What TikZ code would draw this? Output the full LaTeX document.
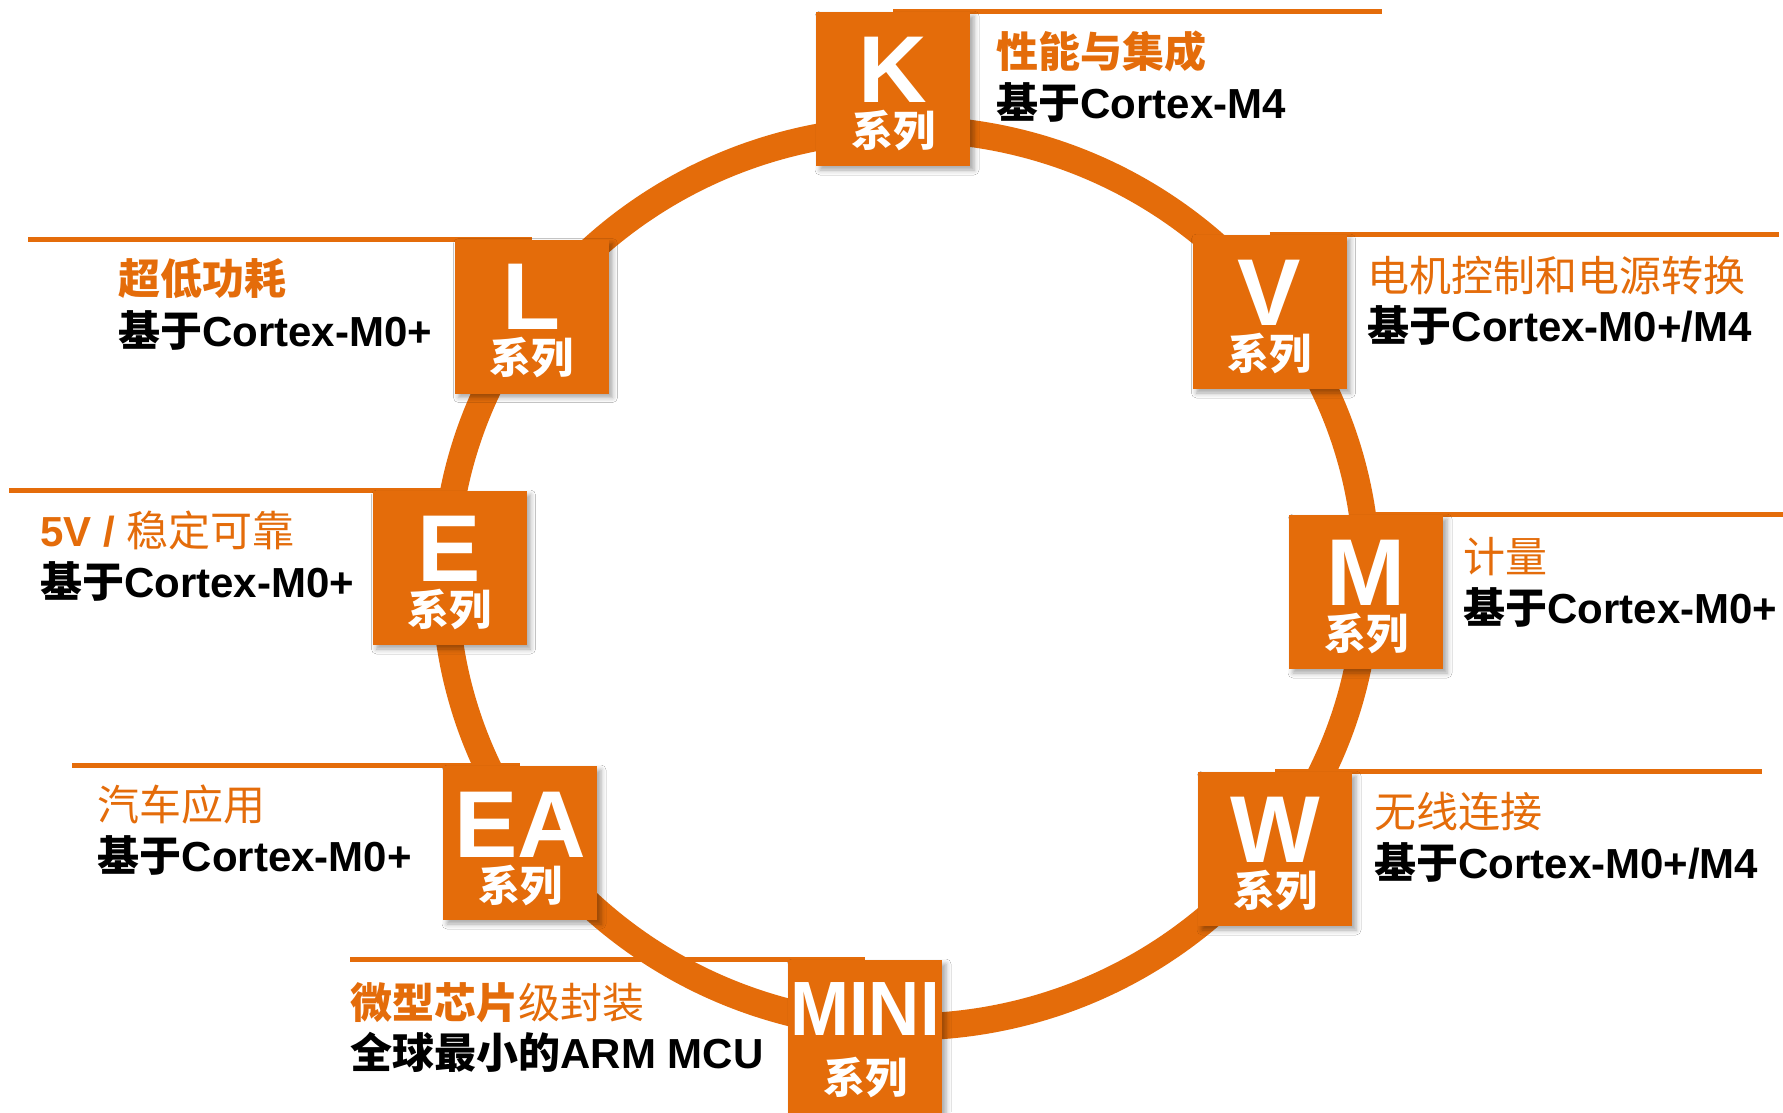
\documentclass[tikz,border=0pt]{standalone}
\usepackage{fontspec}
\usepackage{graphicx}
\setmainfont{Liberation Sans}
\newfontfamily\cjk{Noto Sans CJK SC}
\newcommand{\zh}[1]{{\cjk #1}}
\definecolor{frorange}{RGB}{228,108,10}
\usetikzlibrary{positioning,backgrounds,shadows.blur}

\begin{document}
\begin{tikzpicture}[x=1pt, y=-1pt,
  serbox/.style={fill=frorange, minimum size=154pt, inner sep=0pt,
    blur shadow={shadow xshift=4pt, shadow yshift=-4pt, shadow blur radius=5pt, shadow opacity=35}},
  serletter/.style={text=white, inner sep=0pt, text height=68pt, text depth=0pt,
    font=\fontsize{95}{95}\selectfont\bfseries},
  serxilie/.style={text=white, inner sep=0pt, text height=36pt, text depth=4pt,
    font=\fontsize{42}{42}\selectfont\cjk\bfseries},
  sertitle/.style={text=frorange, inner sep=0pt, text height=37pt, text depth=5pt,
    font=\fontsize{42}{42}\selectfont\cjk},
  sersub/.style={text=black, inner sep=0pt, text height=37pt, text depth=5pt,
    font=\fontsize{42}{42}\selectfont\bfseries},
  topline/.style={frorange, line width=5pt},
  ring/.style={frorange, line width=27pt}]

\useasboundingbox (0,0) rectangle (1783,1112);

% the boxes
\node[serbox] (K) at (893,89) {};
\node[serbox] (L) at (531.5,316.5) {};
\node[serbox] (V) at (1269.5,312) {};
\node[serbox] (E) at (449.5,568) {};
\node[serbox] (M) at (1366,592) {};
\node[serbox] (EA) at (520,843) {};
\node[serbox] (W) at (1275,849) {};
\node[serbox] (MINI) at (865,1037) {};

% ends of the lines
\coordinate (Kend) at (1382,12);
\coordinate (Vend) at (1779,235);
\coordinate (Mend) at (1783,515);
\coordinate (Wend) at (1762,772);
\coordinate (Lend) at (28,240);
\coordinate (Eend) at (9,491);
\coordinate (EAend) at (72,766);
\coordinate (MINIend) at (350,960);

\begin{pgfonlayer}{background}
\fill[white] (0,0) rectangle (1783,1112);
% the ring
\draw[ring] (906,578) ellipse [x radius=461, y radius=449];
% the lines behind the boxes
\draw[topline] (K.north) -- (K.north -| Kend);
\draw[topline] (V.north) -- (V.north -| Vend);
\draw[topline] (M.north) -- (M.north -| Mend);
\draw[topline] (W.north) -- (W.north -| Wend);
\draw[topline] (L.north) -- (L.north -| Lend);
\draw[topline] (E.north) -- (E.north -| Eend);
\draw[topline] (EA.north) -- (EA.north -| EAend);
\draw[topline] (MINI.north) -- (MINI.north -| MINIend);
\end{pgfonlayer}

% letters and labels in the boxes
\node[serletter] (Kl) at ([yshift=21pt]K.center) {K};
\node[serxilie] (Kx) at ([yshift=-41pt]K.center) {系列};
\node[serletter] (Ll) at ([yshift=21pt]L.center) {L};
\node[serxilie] (Lx) at ([yshift=-41pt]L.center) {系列};
\node[serletter] (Vl) at ([yshift=21pt]V.center) {V};
\node[serxilie] (Vx) at ([yshift=-41pt]V.center) {系列};
\node[serletter] (El) at ([yshift=21pt]E.center) {E};
\node[serxilie] (Ex) at ([yshift=-41pt]E.center) {系列};
\node[serletter] (Ml) at ([yshift=21pt]M.center) {M};
\node[serxilie] (Mx) at ([yshift=-41pt]M.center) {系列};
\node[serletter] (EAl) at ([yshift=20pt]EA.center) {EA};
\node[serxilie] (EAx) at ([yshift=-42pt]EA.center) {系列};
\node[serletter] (Wl) at ([yshift=21pt]W.center) {W};
\node[serxilie] (Wx) at ([yshift=-41pt]W.center) {系列};
\node[serletter, text height=55pt, font=\fontsize{77}{77}\selectfont\bfseries] (MINIl) at ([yshift=29pt]MINI.center) {\scalebox{0.92}[1]{MINI}};
\node[serxilie] (MINIx) at ([yshift=-40pt]MINI.center) {系列};

% texts on the right
\node[sertitle, anchor=west] (Kt) at ([xshift=26pt,yshift=-40pt]K.north east) {\bfseries 性能与集成};
\node[sersub, anchor=west] (Ks) at ([xshift=26pt,yshift=-91pt]K.north east) {\zh{基于}Cortex-M4};
\node[sertitle, anchor=west] (Vt) at ([xshift=21pt,yshift=-41pt]V.north east) {电机控制和电源转换};
\node[sersub, anchor=west] (Vs) at ([xshift=21pt,yshift=-91pt]V.north east) {\zh{基于}Cortex-M0+/M4};
\node[sertitle, anchor=west] (Mt) at ([xshift=20pt,yshift=-42pt]M.north east) {计量};
\node[sersub, anchor=west] (Ms) at ([xshift=20pt,yshift=-93pt]M.north east) {\zh{基于}Cortex-M0+};
\node[sertitle, anchor=west] (Wt) at ([xshift=22pt,yshift=-40pt]W.north east) {无线连接};
\node[sersub, anchor=west] (Ws) at ([xshift=22pt,yshift=-91pt]W.north east) {\zh{基于}Cortex-M0+/M4};

% texts on the left
\node[sersub, anchor=east] (Ls) at ([xshift=-22pt,yshift=-91pt]L.north west) {\zh{基于}Cortex-M0+};
\node[sertitle, anchor=west] (Lt) at ([yshift=52pt]Ls.west) {\bfseries 超低功耗};
\node[sersub, anchor=east] (Es) at ([xshift=-18pt,yshift=-91pt]E.north west) {\zh{基于}Cortex-M0+};
\node[sertitle, anchor=west] (Et) at ([yshift=51pt]Es.west) {{\rmfamily\bfseries 5V / }稳定可靠};
\node[sersub, anchor=east] (EAs) at ([xshift=-31pt,yshift=-90pt]EA.north west) {\zh{基于}Cortex-M0+};
\node[sertitle, anchor=west] (EAt) at ([yshift=51pt]EAs.west) {汽车应用};
\node[sersub, anchor=east] (MINIs) at ([xshift=-24pt,yshift=-93pt]MINI.north west) {\zh{全球最小的}ARM MCU};
\node[sertitle, anchor=west] (MINIt) at ([yshift=50pt]MINIs.west) {{\bfseries 微型芯片}级封装};

\end{tikzpicture}
\end{document}
